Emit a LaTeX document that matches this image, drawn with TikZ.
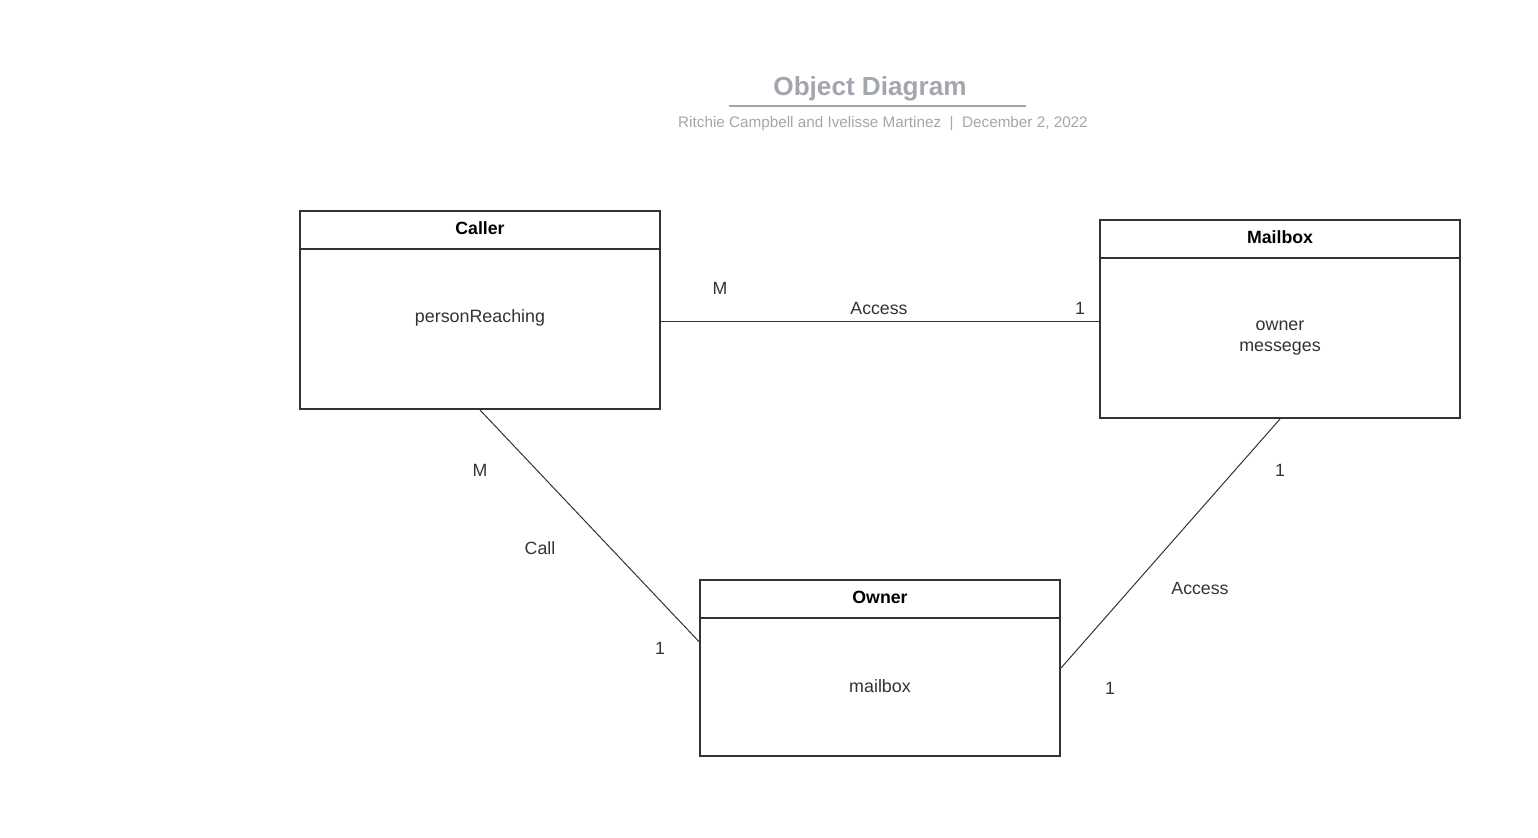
\documentclass[tikz,border=0pt]{standalone}
\usepackage{fontspec}
\setmainfont{Liberation Sans}
\usetikzlibrary{calc}
\definecolor{ink}{HTML}{333333}
\definecolor{titlegray}{HTML}{A3A6AD}
\begin{document}
\begin{tikzpicture}[x=0.75pt,y=-0.75pt,
  objbox/.style={draw=ink,line width=1.5pt,fill=white,inner sep=0pt,minimum width=270pt},
  hdr/.style={font=\fontsize{13.3}{16}\selectfont\bfseries,text=black},
  body/.style={font=\fontsize{13.4}{15.75}\selectfont,text=ink,align=center},
  lbl/.style={font=\fontsize{13.3}{16}\selectfont,text=ink},
  conn/.style={draw=ink,line width=0.75pt}]
\useasboundingbox (0,0) rectangle (1538,838);
% title
\node[font=\fontsize{19.6}{23}\selectfont\bfseries,text=titlegray] (title) at (870,88.5) {Object Diagram};
\draw[titlegray,line width=1.5pt] (729,106.5) -- (1026,106.5);
\node[font=\fontsize{11.45}{14}\selectfont,text=titlegray] (subtitle) at (883,123.5) {Ritchie Campbell and Ivelisse Martinez~~|~~December 2, 2022};
% boxes
\node[objbox,minimum height=148.5pt] (caller) at (480,310) {};
\draw[ink,line width=1.5pt] (300,249) -- (660,249);
\node[hdr] (callerh) at (480,228) {Caller};
\node[body] (callerb) at (480,317.5) {personReaching};

\node[objbox,minimum height=148.5pt] (mailbox) at (1280,319) {};
\draw[ink,line width=1.5pt] (1100,258) -- (1460,258);
\node[hdr] (mailboxh) at (1280,237) {Mailbox};
\node[body] (mailboxb) at (1280,338.5) {owner\\messeges};

\node[objbox,minimum height=132pt] (owner) at (880,668) {};
\draw[ink,line width=1.5pt] (700,618) -- (1060,618);
\node[hdr] (ownerh) at (880,597) {Owner};
\node[body] (ownerb) at (880,686) {mailbox};
% connectors
\draw[conn] ($(caller.east |- mailbox.west)+(0,2)$) -- ($(mailbox.west)+(0,2)$);
\draw[conn] (caller.south) -- ($(owner.north west)!0.352!(owner.south west)$);
\draw[conn] (mailbox.south) -- (owner.east);
% labels
\node[lbl] (m1) at (720,288) {M};
\node[lbl] (a1) at (879,308) {Access};
\node[lbl] (o1) at (1080,308) {1};
\node[lbl] (m2) at (480,470) {M};
\node[lbl] (c2) at (540,548) {Call};
\node[lbl] (o2) at (660,648) {1};
\node[lbl] (o3) at (1280,470) {1};
\node[lbl] (a3) at (1200,588) {Access};
\node[lbl] (o4) at (1110,688) {1};
\end{tikzpicture}
\end{document}
